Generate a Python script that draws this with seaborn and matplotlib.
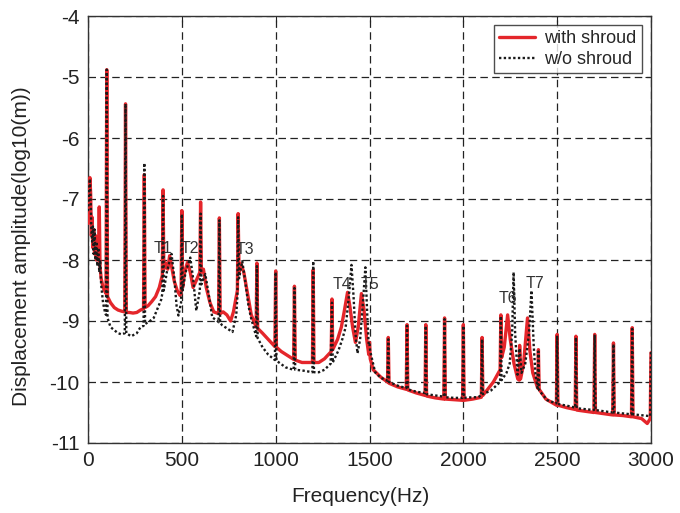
import matplotlib
matplotlib.use("Agg")
import matplotlib.pyplot as plt
import seaborn as sns
import pandas as pd

# ---------------- data ----------------
with_freq = [0, 5, 10, 14, 18, 22, 26, 30, 35, 40, 45, 52, 56, 60, 64, 70, 80, 96,
             100, 104, 120, 140, 160, 180, 196, 200, 204, 220, 240, 260, 280, 296,
             300, 304, 320, 340, 360, 380, 396, 400, 404, 415, 425, 435, 445, 460,
             475, 490, 496, 500, 504, 515, 530, 545, 560, 575, 596, 600, 604, 615,
             630, 650, 670, 696, 700, 704, 720, 740, 760, 775, 796, 800, 805, 815,
             830, 850, 870, 896, 900, 904, 930, 960, 996, 1000, 1004, 1030, 1060,
             1096, 1100, 1104, 1140, 1170, 1196, 1200, 1204, 1230, 1260, 1296, 1300,
             1304, 1330, 1350, 1365, 1383, 1395, 1410, 1425, 1440, 1457, 1470, 1485,
             1496, 1500, 1504, 1520, 1560, 1596, 1600, 1604, 1650, 1696, 1700, 1704,
             1750, 1796, 1800, 1804, 1850, 1896, 1900, 1904, 1950, 1996, 2000, 2004,
             2050, 2096, 2100, 2104, 2130, 2160, 2196, 2200, 2204, 2218, 2236, 2250,
             2270, 2290, 2298, 2300, 2305, 2321, 2342, 2355, 2370, 2396, 2400, 2404,
             2440, 2496, 2500, 2504, 2550, 2596, 2600, 2604, 2650, 2696, 2700, 2704,
             2750, 2796, 2800, 2804, 2850, 2896, 2900, 2904, 2950, 2980, 2996, 3000]
with_amp = [-7.4, -7.0, -6.65, -6.9, -7.6, -7.3, -7.8, -7.5, -7.9, -7.6, -8.0, -7.8,
            -8.0, -7.13, -8.1, -8.3, -8.45, -8.55,
            -4.88, -8.6, -8.7, -8.78, -8.82, -8.84, -8.85, -5.44, -8.86, -8.86, -8.87,
            -8.86, -8.82, -8.8,
            -6.6, -8.78, -8.75, -8.68, -8.6, -8.45, -8.25, -6.85, -8.15, -8.05, -8.15,
            -7.93, -8.1, -8.35,
            -8.5, -8.58, -8.55, -7.19, -8.45, -8.2, -8.04, -8.2, -8.45, -8.35, -8.2,
            -7.05, -8.2, -8.15,
            -8.45, -8.7, -8.85, -8.88, -7.31, -8.88, -8.85, -8.9, -9.0, -8.85, -8.5,
            -7.24, -8.2, -8.06,
            -8.2, -8.55, -8.9, -9.1, -8.05, -9.12, -9.2, -9.3, -9.42, -8.18, -9.43,
            -9.5, -9.56,
            -9.63, -8.43, -9.64, -9.68, -9.68, -9.68, -8.16, -9.68, -9.68, -9.62,
            -9.5, -8.64,
            -9.47, -9.3, -9.1, -8.85, -8.53, -8.75, -9.1, -9.35, -9.1, -8.55, -8.8,
            -9.3,
            -9.55, -9.35, -9.62, -9.8, -9.92, -10.0, -9.27, -10.02, -10.08, -10.12,
            -9.06, -10.13,
            -10.18, -10.22, -9.06, -10.23, -10.26, -10.28, -8.95, -10.28, -10.29,
            -10.3, -9.06, -10.3,
            -10.28, -10.25, -9.27, -10.22, -10.12, -10.0, -9.8, -8.9, -9.6, -9.43,
            -8.9, -9.3,
            -9.7, -9.95, -9.97, -9.4, -9.95, -9.7, -8.95, -9.5, -9.85, -10.1, -9.47,
            -10.12,
            -10.28, -10.38, -9.22, -10.38, -10.42, -10.45, -9.25, -10.46, -10.48,
            -10.5, -9.22, -10.5,
            -10.52, -10.54, -9.36, -10.54, -10.55, -10.57, -9.11, -10.57, -10.6,
            -10.68, -10.6, -9.52]

without_freq = [0, 5, 10, 14, 18, 22, 26, 30, 35, 40, 45, 50, 55, 60, 65, 70, 80, 90,
                96, 100, 104, 120, 140, 160, 180, 196, 200, 204, 230, 260, 280, 296,
                300, 304, 330, 350, 370, 390, 396, 400, 404, 420, 445, 460, 472, 482,
                496, 500, 504, 520, 545, 560, 577, 596, 600, 604, 625, 645, 662, 690,
                696, 700, 704, 715, 740, 770, 790, 796, 800, 805, 822, 840, 855, 868,
                896, 900, 904, 930, 960, 996, 1000, 1004, 1053, 1096, 1100, 1104, 1140,
                1196, 1200, 1204, 1230, 1260, 1293, 1300, 1304, 1335, 1355, 1373, 1390,
                1404, 1415, 1425, 1436, 1450, 1465, 1478, 1488, 1496, 1500, 1504, 1530,
                1560, 1596, 1600, 1604, 1650, 1696, 1700, 1704, 1750, 1796, 1800, 1804,
                1850, 1896, 1900, 1904, 1950, 1996, 2000, 2004, 2050, 2077, 2096, 2100,
                2104, 2147, 2196, 2200, 2204, 2230, 2247, 2260, 2268, 2276, 2289, 2300,
                2310, 2330, 2350, 2363, 2375, 2385, 2396, 2400, 2404, 2448, 2496, 2500,
                2504, 2570, 2596, 2600, 2604, 2696, 2700, 2704, 2750, 2796, 2800, 2804,
                2896, 2900, 2904, 2962, 2996, 3000]
without_amp = [-7.2, -6.9, -6.67, -7.0, -7.5, -7.7, -7.45, -7.9, -7.5, -8.0, -7.7,
               -8.1, -7.8, -8.2, -8.0, -8.4, -8.7, -8.85,
               -8.9, -4.88, -8.95, -9.1, -9.15, -9.2, -9.22, -9.2, -5.44, -9.2, -9.25,
               -9.2, -9.1, -9.08,
               -6.41, -9.05, -9.0, -8.95, -8.8, -8.65, -8.55, -6.95, -8.5, -8.2, -7.9,
               -8.3, -8.75, -8.91,
               -8.7, -7.25, -8.5, -8.2, -7.96, -8.3, -8.83, -8.5, -7.24, -8.4, -8.23,
               -8.6, -8.94, -9.0,
               -9.02, -7.35, -9.03, -9.07, -9.12, -9.18, -8.9, -8.6, -7.3, -8.3, -8.02,
               -8.4, -8.75, -8.94,
               -9.25, -8.1, -9.28, -9.43, -9.55, -9.64, -8.2, -9.65, -9.76, -9.8, -8.46,
               -9.8, -9.81,
               -9.84, -8.02, -9.84, -9.84, -9.8, -9.7, -8.7, -9.68, -9.48, -9.3, -9.1,
               -8.6,
               -8.08, -8.6, -9.2, -9.53, -9.3, -8.7, -8.12, -8.9, -9.4, -9.38, -9.5,
               -9.84,
               -9.93, -9.98, -9.3, -10.0, -10.06, -10.1, -9.08, -10.12, -10.16, -10.18,
               -9.08, -10.2,
               -10.22, -10.24, -8.97, -10.25, -10.26, -10.26, -9.08, -10.26, -10.25,
               -10.25, -10.22, -9.3,
               -10.2, -10.14, -10.0, -8.92, -9.97, -9.85, -9.7, -9.2, -8.2, -9.2, -9.88,
               -9.45,
               -9.85, -9.7, -9.2, -8.5, -9.4, -9.9, -10.1, -9.5, -10.14, -10.3, -10.35,
               -9.24,
               -10.36, -10.4, -10.42, -9.27, -10.43, -10.46, -9.24, -10.46, -10.48,
               -10.5, -9.38, -10.5,
               -10.53, -9.13, -10.53, -10.55, -10.56, -9.5]

series_names = ["with shroud", "w/o shroud"]
mode_labels = ["T1", "T2", "T3", "T4", "T5", "T6", "T7"]
mode_label_freq = [398, 542, 838, 1353, 1500, 2236, 2379]
mode_label_amp = [-7.81, -7.81, -7.83, -8.40, -8.40, -8.63, -8.39]
x_ticks = [0, 500, 1000, 1500, 2000, 2500, 3000]
y_ticks = [-11, -10, -9, -8, -7, -6, -5, -4]

# ---------------- plotting ----------------
sns.set_style("white")
plt.rcParams["font.family"] = ["Liberation Sans", "DejaVu Sans"]

df_with = pd.DataFrame({"f": with_freq, "a": with_amp})
df_without = pd.DataFrame({"f": without_freq, "a": without_amp})

fig = plt.figure(figsize=(6.8, 5.13), dpi=100)
ax = fig.add_axes([88 / 680, 1 - 443 / 513, 563 / 680, 427 / 513])

sns.lineplot(data=df_with, x="f", y="a", sort=False, estimator=None, ax=ax,
             color="#e4262b", linewidth=2.4, label=series_names[0], zorder=3)
sns.lineplot(data=df_without, x="f", y="a", sort=False, estimator=None, ax=ax,
             color="#1a1a1a", linewidth=1.7, dashes=False, label=series_names[1],
             zorder=4)
ax.lines[1].set_linestyle((0, (1, 1)))

for lab, fx, fy in zip(mode_labels, mode_label_freq, mode_label_amp):
    ax.text(fx, fy, lab, fontsize=11.5, color="#333333", ha="center", va="center",
            zorder=5)

ax.set_xlim(0, 3000)
ax.set_ylim(-11, -4)
ax.set_xticks(x_ticks)
ax.set_yticks(y_ticks)
ax.set_xticklabels([str(t) for t in x_ticks])
ax.set_yticklabels([str(t) for t in y_ticks])
ax.tick_params(direction="in", length=4, width=0.8, labelsize=15, colors="#222222",
               top=True, right=True, pad=6)
ax.grid(True, linestyle=(0, (6, 3.5)), color="#222222", linewidth=0.9)
for s in ax.spines.values():
    s.set_color("#333333")
    s.set_linewidth(1.0)

ax.set_xlabel("Frequency(Hz)", fontsize=15, color="#222222")
ax.set_ylabel("Displacement amplitude(log10(m))", fontsize=15, color="#222222")
ax.xaxis.set_label_coords(0.483, -0.103)
ax.yaxis.set_label_coords(-0.101, 0.461)

leg = ax.legend(loc="upper right", fontsize=13, frameon=True, fancybox=False,
                handlelength=2.0, handletextpad=0.5, borderpad=0.3,
                labelspacing=0.2, borderaxespad=0.5)
leg.get_frame().set_edgecolor("#222222")
leg.get_frame().set_linewidth(1.0)
leg.set_zorder(10)

fig.savefig("out.png", dpi=100)
